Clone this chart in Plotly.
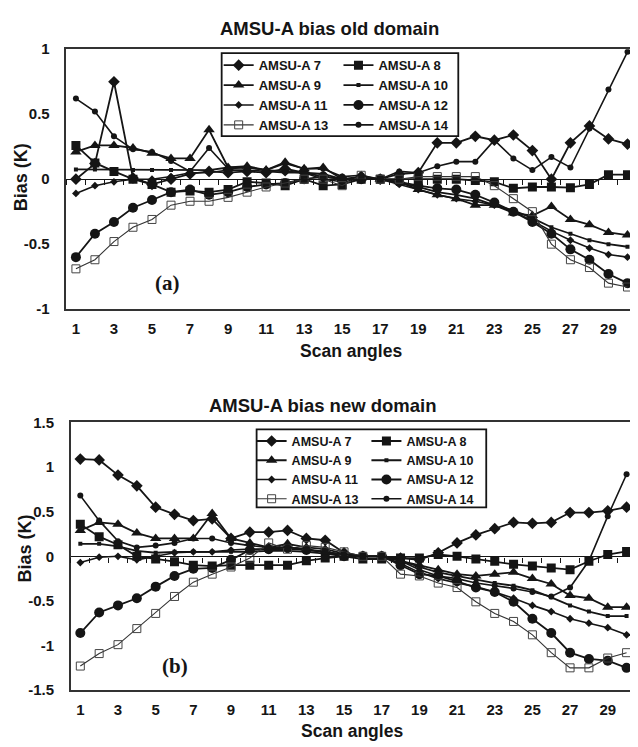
import plotly.graph_objects as go

# ---------------- data ----------------
scan = list(range(1, 31))
channels = ["AMSU-A 7", "AMSU-A 8", "AMSU-A 9", "AMSU-A 10",
            "AMSU-A 11", "AMSU-A 12", "AMSU-A 13", "AMSU-A 14"]
x_tick_vals = list(range(1, 31, 2))
old_y_ticks = [-1, -0.5, 0, 0.5, 1]
new_y_ticks = [-1.5, -1, -0.5, 0, 0.5, 1, 1.5]

# (a) old domain
old_7 = [0.00, 0.12, 0.75, 0.01, -0.04, 0.00, 0.04, 0.06, 0.05, 0.06, 0.05, 0.08, 0.05, 0.02, 0.00,
         0.02, 0.00, 0.04, 0.05, 0.28, 0.28, 0.33, 0.30, 0.34, 0.22, 0.00, 0.28, 0.41, 0.31, 0.27]
old_8 = [0.26, 0.125, 0.06, 0.00, -0.04, -0.10, -0.09, -0.10, -0.08, -0.02, -0.03, -0.05, 0.00, -0.05, -0.04,
         0.00, 0.00, 0.00, 0.00, 0.00, 0.00, -0.01, -0.02, -0.07, -0.06, -0.06, -0.065, -0.04, 0.035, 0.035]
old_9 = [0.21, 0.26, 0.26, 0.24, 0.20, 0.16, 0.16, 0.38, 0.09, 0.10, 0.07, 0.13, 0.08, 0.09, 0.00,
         0.01, 0.00, -0.02, -0.08, -0.12, -0.15, -0.20, -0.20, -0.26, -0.28, -0.21, -0.31, -0.35, -0.41, -0.43]
old_10 = [0.075, 0.075, 0.075, 0.07, 0.07, 0.07, 0.07, 0.07, 0.09, 0.09, 0.07, 0.06, 0.05, 0.04, 0.00,
          0.00, 0.00, -0.03, -0.06, -0.10, -0.12, -0.15, -0.20, -0.24, -0.30, -0.37, -0.42, -0.47, -0.50, -0.52]
old_11 = [-0.11, -0.05, -0.02, 0.00, 0.00, 0.02, 0.05, 0.05, 0.07, 0.07, 0.06, 0.05, 0.05, 0.00, -0.02,
          0.00, 0.00, -0.04, -0.08, -0.12, -0.15, -0.17, -0.20, -0.25, -0.32, -0.40, -0.47, -0.53, -0.58, -0.60]
old_12 = [-0.60, -0.42, -0.33, -0.22, -0.16, -0.10, -0.08, -0.12, -0.10, -0.06, -0.04, -0.03, 0.00, 0.02, 0.00,
          0.00, 0.00, -0.02, -0.05, -0.07, -0.08, -0.12, -0.18, -0.25, -0.33, -0.42, -0.54, -0.62, -0.73, -0.80]
old_13 = [-0.69, -0.62, -0.48, -0.37, -0.31, -0.20, -0.17, -0.17, -0.14, -0.10, -0.06, -0.03, 0.00, 0.00, -0.05,
          0.03, 0.00, 0.00, 0.02, 0.02, 0.02, 0.02, -0.05, -0.15, -0.25, -0.50, -0.62, -0.68, -0.80, -0.83]
old_14 = [0.62, 0.52, 0.33, 0.23, 0.21, 0.14, 0.06, 0.24, 0.08, 0.09, 0.07, 0.12, 0.08, 0.08, 0.02,
          0.03, 0.00, 0.06, 0.05, 0.10, 0.135, 0.135, 0.30, 0.16, 0.07, 0.17, 0.09, 0.39, 0.69, 0.98]

# (b) new domain
new_7 = [1.09, 1.08, 0.91, 0.79, 0.55, 0.47, 0.40, 0.42, 0.20, 0.27, 0.27, 0.29, 0.20, 0.18, 0.04,
         0.00, 0.00, -0.02, -0.04, 0.04, 0.15, 0.24, 0.31, 0.38, 0.37, 0.38, 0.49, 0.49, 0.51, 0.55]
new_8 = [0.36, 0.22, 0.13, 0.00, -0.03, -0.06, -0.10, -0.11, -0.10, -0.10, -0.10, -0.10, -0.05, -0.02, 0.00,
         -0.03, -0.03, -0.02, -0.02, 0.02, 0.00, -0.03, -0.055, -0.09, -0.11, -0.13, -0.15, -0.055, 0.02, 0.055]
new_9 = [0.29, 0.38, 0.36, 0.26, 0.20, 0.20, 0.20, 0.48, 0.20, 0.15, 0.10, 0.14, 0.10, 0.08, 0.03,
         0.00, 0.00, -0.05, -0.10, -0.15, -0.20, -0.22, -0.20, -0.18, -0.25, -0.31, -0.44, -0.47, -0.57, -0.57]
new_10 = [0.14, 0.14, 0.11, 0.06, 0.04, 0.05, 0.05, 0.05, 0.05, 0.05, 0.06, 0.06, 0.05, 0.03, 0.00,
          0.00, 0.00, -0.05, -0.12, -0.18, -0.22, -0.26, -0.30, -0.33, -0.38, -0.46, -0.55, -0.62, -0.67, -0.67]
new_11 = [-0.07, -0.01, 0.00, -0.04, 0.00, 0.04, 0.05, 0.05, 0.07, 0.08, 0.08, 0.08, 0.07, 0.05, 0.02,
          0.00, 0.00, -0.08, -0.18, -0.25, -0.30, -0.34, -0.40, -0.47, -0.55, -0.62, -0.70, -0.75, -0.80, -0.88]
new_12 = [-0.86, -0.63, -0.55, -0.47, -0.34, -0.22, -0.14, -0.13, -0.04, 0.07, 0.08, 0.10, 0.07, 0.05, 0.00,
          0.00, 0.00, -0.10, -0.20, -0.22, -0.28, -0.35, -0.40, -0.51, -0.70, -0.86, -1.08, -1.15, -1.17, -1.25]
new_13 = [-1.23, -1.09, -0.99, -0.81, -0.64, -0.45, -0.29, -0.20, -0.12, -0.02, 0.15, 0.08, 0.12, 0.10, 0.05,
          0.00, 0.00, -0.20, -0.22, -0.30, -0.35, -0.51, -0.64, -0.73, -0.88, -1.08, -1.25, -1.25, -1.14, -1.08]
new_14 = [0.68, 0.40, 0.17, 0.10, 0.12, 0.15, 0.20, 0.20, 0.15, 0.12, 0.10, 0.10, 0.08, 0.05, 0.02,
          0.00, 0.00, -0.05, -0.15, -0.22, -0.25, -0.30, -0.33, -0.36, -0.40, -0.45, -0.35, -0.05, 0.45, 0.92]

old_series = [old_7, old_8, old_9, old_10, old_11, old_12, old_13, old_14]
new_series = [new_7, new_8, new_9, new_10, new_11, new_12, new_13, new_14]

# ---------------- styles ----------------
INK = "#151515"
FONT = "Liberation Sans, Arial, sans-serif"
marker_styles = [
    dict(symbol="diamond", size=9, color=INK),
    dict(symbol="square", size=9, color=INK),
    dict(symbol="triangle-up", size=10, color=INK),
    dict(symbol="square", size=4, color=INK),
    dict(symbol="diamond", size=6, color=INK),
    dict(symbol="circle", size=10, color=INK),
    dict(symbol="square-open", size=8, color="#444", line=dict(width=1, color="#444")),
    dict(symbol="circle", size=6, color=INK),
]
line_widths = [1.8, 1.8, 1.8, 1.8, 1.6, 1.8, 1.1, 1.6]

# The page body has an 8px default margin: the figure is placed at (8, 8)
OFF = 8
W, H = 638 - OFF, 747 - OFF
# panel boxes in page pixels
top_box = dict(l=66.5, r=638, t=41, b=307)
bot_box = dict(l=71, r=637, t=423, b=697)


def px_x(v):
    return (v - OFF) / W


def px_y(v):
    return 1 - (v - OFF) / H


fig = go.Figure()

panels = [
    ("x", "y", old_series, ["legend", "legend2"]),
    ("x2", "y2", new_series, ["legend3", "legend4"]),
]
for xa, ya, series, legs in panels:
    for k, (name, vals) in enumerate(zip(channels, series)):
        fig.add_trace(go.Scatter(
            x=scan, y=vals, name="<b>%s</b>" % name, mode="lines+markers",
            xaxis=xa, yaxis=ya,
            line=dict(color=INK if k != 6 else "#333", width=line_widths[k]),
            marker=marker_styles[k],
            legend=legs[k % 2],
            hoverinfo="x+y+name",
        ))

# empty traces to carry the zero-crossing tick axes
fig.add_trace(go.Scatter(x=[], y=[], xaxis="x3", yaxis="y", showlegend=False))
fig.add_trace(go.Scatter(x=[], y=[], xaxis="x4", yaxis="y2", showlegend=False))

tick_font = dict(family=FONT, size=15, color=INK)
boundaries = [i + 0.5 for i in range(0, 31)]

common_x = dict(range=[0.5, 30.5], showgrid=False, zeroline=False, showline=True,
                linecolor="#333", linewidth=1.5, mirror=True, ticks="",
                tickvals=x_tick_vals, ticktext=["<b>%d</b>" % v for v in x_tick_vals],
                tickfont=tick_font, ticklabelstandoff=5)

fig.update_layout(
    width=W, height=H,
    margin=dict(l=0, r=0, t=0, b=0),
    paper_bgcolor="white", plot_bgcolor="white",
    showlegend=True,
    xaxis=dict(domain=[px_x(top_box["l"]), min(1, px_x(top_box["r"]))], anchor="y", **common_x),
    yaxis=dict(domain=[px_y(top_box["b"]), px_y(top_box["t"])], anchor="x",
               range=[-1, 1], showgrid=False, zeroline=False, showline=True,
               linecolor="#333", linewidth=1.5, mirror=False, ticks="",
               tickvals=old_y_ticks, ticktext=["<b>%g</b>" % v for v in old_y_ticks],
               tickfont=tick_font, ticklabelstandoff=12),
    xaxis2=dict(domain=[px_x(bot_box["l"]), min(1, px_x(bot_box["r"]))], anchor="y2", **common_x),
    yaxis2=dict(domain=[px_y(bot_box["b"]), px_y(bot_box["t"])], anchor="x2",
                range=[-1.5, 1.5], showgrid=False, zeroline=False, showline=True,
                linecolor="#333", linewidth=1.5, mirror=True, ticks="",
                tickvals=new_y_ticks, ticktext=["<b>%g</b>" % v for v in new_y_ticks],
                tickfont=tick_font, ticklabelstandoff=12),
    xaxis3=dict(overlaying="x", anchor="free",
                position=(px_y(top_box["b"]) + px_y(top_box["t"])) / 2,
                range=[0.5, 30.5], showgrid=False, zeroline=False, showline=True,
                linecolor=INK, linewidth=1.4, ticks="outside", ticklen=5, tickwidth=1.2,
                tickcolor=INK, tickvals=boundaries, showticklabels=False),
    xaxis4=dict(overlaying="x2", anchor="free",
                position=(px_y(bot_box["b"]) + px_y(bot_box["t"])) / 2,
                range=[0.5, 30.5], showgrid=False, zeroline=False, showline=True,
                linecolor=INK, linewidth=1.4, ticks="outside", ticklen=5, tickwidth=1.2,
                tickcolor=INK, tickvals=boundaries, showticklabels=False),
)

leg_top = dict(xanchor="left", yanchor="top", bgcolor="rgba(0,0,0,0)", borderwidth=0,
               font=dict(family=FONT, size=13, color=INK), tracegroupgap=0,
               itemclick=False, itemdoubleclick=False)
leg_bot = dict(leg_top, font=dict(family=FONT, size=12.5, color=INK))
fig.update_layout(
    legend=dict(x=px_x(219), y=px_y(42), **leg_top),
    legend2=dict(x=px_x(339), y=px_y(42), **leg_top),
    legend3=dict(x=px_x(252), y=px_y(427), **leg_bot),
    legend4=dict(x=px_x(367), y=px_y(427), **leg_bot),
)

# legend frames
for (x0, y0, x1, y1) in [(222, 45, 459, 130), (257, 430, 487, 510)]:
    fig.add_shape(type="rect", xref="paper", yref="paper",
                  x0=px_x(x0), x1=px_x(x1), y0=px_y(y1), y1=px_y(y0),
                  line=dict(color=INK, width=1.8), fillcolor="rgba(0,0,0,0)", layer="above")

ann = []
ann.append(dict(text="<b>AMSU-A bias old domain</b>", x=px_x(330), y=px_y(20),
                font=dict(family=FONT, size=18.5, color=INK)))
ann.append(dict(text="<b>AMSU-A bias new domain</b>", x=px_x(324), y=px_y(406),
                font=dict(family=FONT, size=18.5, color=INK)))
ann.append(dict(text="<b>Scan angles</b>", x=px_x(352), y=px_y(350),
                font=dict(family=FONT, size=17.5, color=INK)))
ann.append(dict(text="<b>Scan angles</b>", x=px_x(353), y=px_y(739),
                font=dict(family=FONT, size=17.5, color=INK)))
ann.append(dict(text="<b>Bias (K)</b>", x=px_x(21), y=px_y(172), textangle=-90,
                font=dict(family=FONT, size=18, color=INK)))
ann.append(dict(text="<b>Bias (K)</b>", x=px_x(26), y=px_y(552), textangle=-90,
                font=dict(family=FONT, size=18, color=INK)))
ann.append(dict(text="<b>(a)</b>", x=px_x(168), y=px_y(280),
                font=dict(family="Liberation Serif, Times New Roman, serif", size=21, color=INK)))
ann.append(dict(text="<b>(b)</b>", x=px_x(175), y=px_y(672),
                font=dict(family="Liberation Serif, Times New Roman, serif", size=21, color=INK)))
for a in ann:
    a.update(xref="paper", yref="paper", showarrow=False, xanchor="center", yanchor="middle")
fig.update_layout(annotations=ann)

fig.write_html("out.html")
